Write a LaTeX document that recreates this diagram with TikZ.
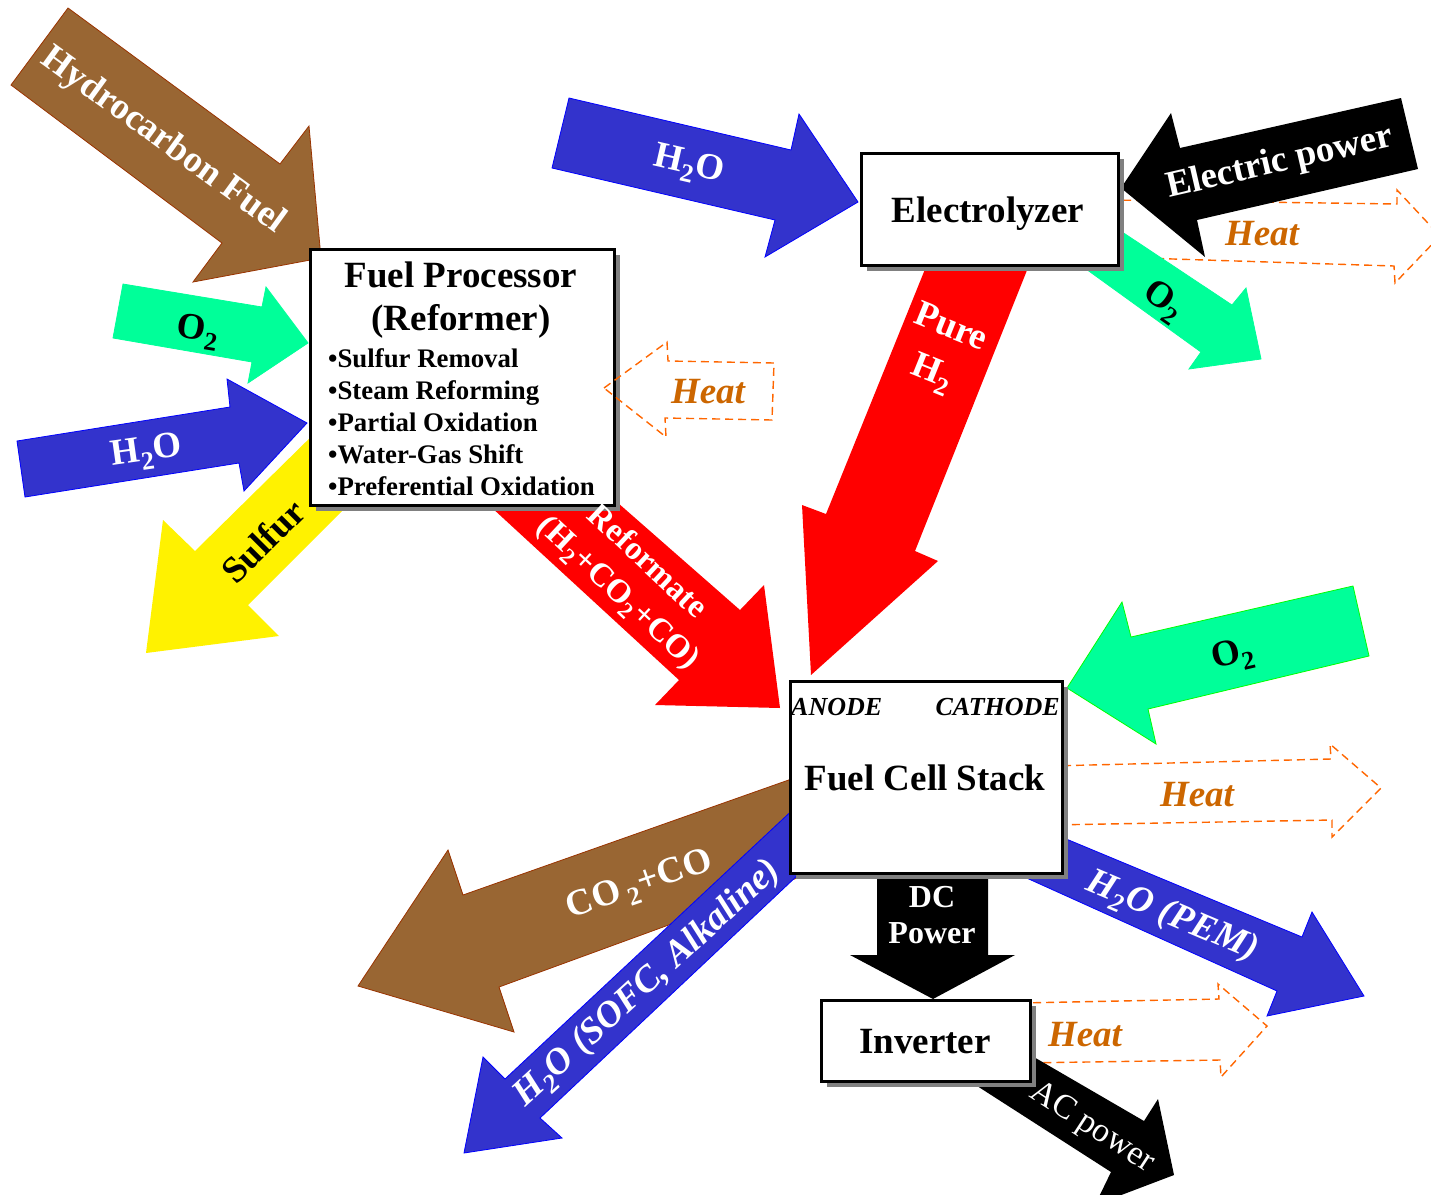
\documentclass[tikz,border=0pt]{standalone}
\usepackage{fontspec}
\setmainfont{Liberation Serif}
\usetikzlibrary{shadows}
\definecolor{brownfill}{HTML}{996633}
\definecolor{brownline}{HTML}{993300}
\definecolor{bluefill}{HTML}{3333CC}
\definecolor{blueline}{HTML}{0000FF}
\definecolor{greenfill}{HTML}{00FF99}
\definecolor{greenline}{HTML}{00FF00}
\definecolor{heatline}{HTML}{FF6600}
\definecolor{heattext}{HTML}{CC6600}
\begin{document}
\begin{tikzpicture}[x=1pt,y=-1pt,
  fat/.style={line width=0.8pt, line join=miter},
  brownarrow/.style={fat, fill=brownfill, draw=brownline},
  bluearrow/.style={fat, fill=bluefill, draw=blueline},
  greenarrow/.style={fat, fill=greenfill, draw=greenfill},
  greenarrowB/.style={fat, fill=greenfill, draw=greenline},
  redarrow/.style={fill=red},
  yellowarrow/.style={fill=yellow},
  blackarrow/.style={fill=black},
  heatarrow/.style={draw=heatline, line width=1.4pt, dash pattern=on 8pt off 5pt},
  procbox/.style={draw, line width=2.5pt, fill=white, inner sep=0pt, anchor=north west,
    drop shadow={shadow xshift=6pt, shadow yshift=-6pt, fill=gray, opacity=1}},
  big/.style={inner sep=0pt, font=\fontsize{37}{44}\selectfont\bfseries},
  bigw/.style={big, text=white},
  bigi/.style={inner sep=0pt, font=\fontsize{37}{44}\selectfont\bfseries\itshape},
  bigiw/.style={bigi, text=white},
  heattxt/.style={bigi, text=heattext},
  bulletitem/.style={inner sep=0pt, font=\fontsize{26.8}{30}\selectfont\bfseries, anchor=base west},
  electrode/.style={inner sep=0pt, font=\fontsize{26}{30}\selectfont\bfseries\itshape},
  plainw/.style={inner sep=0pt, text=white, font=\fontsize{34}{38}\selectfont},
  dcw/.style={inner sep=0pt, text=white, font=\fontsize{32}{38}\selectfont\bfseries},
  reftxt/.style={inner sep=0pt, text=white, font=\fontsize{33}{42}\selectfont\bfseries, align=center}
]
\path[use as bounding box] (0,0) rectangle (1431,1194);
\clip (0,0) rectangle (1431,1194);

% heat arrows behind
\draw[heatarrow] (1110,200) -- (1397,204) -- (1397,190) -- (1440,236) -- (1395,283) -- (1394,266) -- (1110,257) -- cycle;
\draw[heatarrow] (1050,766) -- (1331,759) -- (1330,744) -- (1381,788) -- (1332,837) -- (1332,820) -- (1050,825) -- cycle;
\draw[heatarrow] (1020,1003) -- (1219,999) -- (1218,984) -- (1267,1026) -- (1221,1077) -- (1220,1060) -- (1020,1063) -- cycle;

% fat arrows
\filldraw[brownarrow] (68,8) -- (280,164) -- (309,126) -- (321,258) -- (193,282) -- (222,243) -- (11,85) -- cycle;
\filldraw[greenarrow] (123,284) -- (262,307) -- (266,287) -- (308,343) -- (248,383) -- (252,362) -- (113,338) -- cycle;
\filldraw[bluearrow] (17,441) -- (230,407) -- (227,379) -- (307,423) -- (244,491) -- (239,463) -- (25,497) -- cycle;
\fill[yellowarrow] (322,426) -- (195,551) -- (163,520) -- (146,653) -- (279,636) -- (248,605) -- (372,481) -- cycle;
\filldraw[bluearrow] (569,98) -- (791,150) -- (799,114) -- (858,202) -- (765,257) -- (775,220) -- (552,168) -- cycle;
\fill[blackarrow] (1401,98) -- (1180,148) -- (1171,113) -- (1121,188) -- (1205,257) -- (1197,220) -- (1418,169) -- cycle;
\filldraw[greenarrow] (1095,214) -- (1232,305) -- (1246,288) -- (1261,359) -- (1189,369) -- (1201,352) -- (1050,243) -- cycle;
\fill[redarrow] (953,200) -- (826,514) -- (802,505) -- (811,675) -- (938,561) -- (915,551) -- (1055,200) -- cycle;
\fill[redarrow] (440,460) -- (679,680) -- (655,705) -- (780,708) -- (764,585) -- (740,610) -- (569,460) -- cycle;
\filldraw[greenarrowB] (1353,586) -- (1131,637) -- (1122,602) -- (1067,688) -- (1156,744) -- (1148,709) -- (1369,656) -- cycle;
\filldraw[brownarrow] (800,776) -- (463,895) -- (448,850) -- (358,986) -- (514,1032) -- (499,987) -- (830,866) -- cycle;
\filldraw[bluearrow] (464,1153) -- (483,1057) -- (505,1079) -- (815,789) -- (835,840) -- (540,1118) -- (562,1138) -- cycle;
\filldraw[bluearrow] (1047,831) -- (1302,937) -- (1312,912) -- (1364,996) -- (1267,1016) -- (1277,991) -- (1000,866) -- cycle;
\fill[blackarrow] (877,860) -- (877,955) -- (850,955) -- (933,999) -- (1015,955) -- (988,955) -- (988,860) -- cycle;
\fill[blackarrow] (996,1035) -- (1144,1121) -- (1158,1099) -- (1174,1175) -- (1095,1205) -- (1111,1172) -- (960,1075) -- cycle;

% boxes
\node[procbox, minimum width=304pt, minimum height=256pt] (fp) at (309,248) {};
\node[procbox, minimum width=257pt, minimum height=112pt] (el) at (860,152) {};
\node[procbox, minimum width=272pt, minimum height=192pt] (fc) at (789,680) {};
\node[procbox, minimum width=209pt, minimum height=81pt] (inv) at (820,999) {};

% heat arrow into fuel processor (on top)
\draw[heatarrow] (604,388) -- (667,342) -- (668,361) -- (774,363) -- (772,420) -- (665,418) -- (666,437) -- cycle;

% box texts
\node[big, anchor=base] (fpt1) at (461,287) {Fuel Processor};
\node[big, anchor=base] (fpt2) at (461,330) {(Reformer)};
\node[bulletitem] (fpi1) at (328,367) {\textbullet Sulfur Removal};
\node[bulletitem] (fpi2) at (328,399) {\textbullet Steam Reforming};
\node[bulletitem] (fpi3) at (328,431) {\textbullet Partial Oxidation};
\node[bulletitem] (fpi4) at (328,463) {\textbullet Water-Gas Shift};
\node[bulletitem] (fpi5) at (328,495) {\textbullet Preferential Oxidation};
\node[big, anchor=base] (elt) at (988,222) {Electrolyzer};
\node[electrode, anchor=base west] (anode) at (791,715) {ANODE};
\node[electrode, anchor=base east] (cathode) at (1060,715) {CATHODE};
\node[big, anchor=base] (fct) at (925,790) {Fuel Cell Stack};
\node[big, anchor=base] (invt) at (925,1053) {Inverter};

% arrow labels
\node[bigw, rotate=-36] (thc) at (163,141) {Hydrocarbon Fuel};
\node[big, rotate=-9] (to2a) at (198,332) {O\textsubscript{2}};
\node[bigw, rotate=8] (th2oa) at (147,453) {H\textsubscript{2}O};
\node[big, rotate=45] (tsul) at (263,541) {Sulfur};
\node[bigw, rotate=-13] (th2ob) at (689,166) {H\textsubscript{2}O};
\node[bigw, rotate=13] (tep) at (1280,163) {Electric power};
\node[big, rotate=-35] (to2b) at (1163,302) {O\textsubscript{2}};
\node[heattxt] (theat1) at (1262,234) {Heat};
\node[heattxt] (theat2) at (708,392) {Heat};
\node[bigw, rotate=-22, align=center, font=\fontsize{37}{48}\selectfont\bfseries] (tpure) at (941,352) {Pure\\H\textsubscript{2}};
\node[reftxt, rotate=-43] (tref) at (632,578) {Reformate\\(H\textsubscript{2}+CO\textsubscript{2}+CO)};
\node[big, rotate=13] (to2c) at (1233,656) {O\textsubscript{2}};
\node[heattxt] (theat3) at (1197,795) {Heat};
\node[heattxt] (theat4) at (1085,1035) {Heat};
\node[bigw, rotate=19] (tco) at (640,886) {CO\,\textsubscript{2}+CO};
\node[bigiw, rotate=42.5] (tsofc) at (648,984) {H\textsubscript{2}O (SOFC, Alkaline)};
\node[bigiw, rotate=-23] (tpem) at (1172,917) {H\textsubscript{2}O (PEM)};
\node[dcw, anchor=base] (tdc) at (932,907) {DC};
\node[dcw, anchor=base] (tpow) at (932,943) {Power};
\node[plainw, rotate=-33] (tac) at (1092,1128) {AC power};
\end{tikzpicture}
\end{document}
